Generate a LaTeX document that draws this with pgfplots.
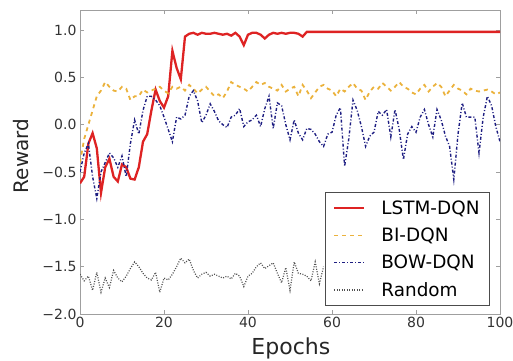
\documentclass[border=0pt]{standalone}
\usepackage{fontspec}
\setmainfont{DejaVu Sans}
\usepackage{pgfplots}
\usepackage{pgfplotstable}
\pgfplotsset{compat=1.18}
\definecolor{lstm}{RGB}{222,35,35}
\definecolor{bidqn}{RGB}{235,178,60}
\definecolor{bow}{RGB}{30,30,130}
\definecolor{rnd}{RGB}{80,80,80}
\pgfplotstableread{
epoch lstm bi bow rand
0 -0.62 -0.40 -0.50 -1.58
1 -0.55 -0.15 -0.30 -1.65
2 -0.20 0.00 -0.20 -1.60
3 -0.09 0.15 -0.55 -1.75
4 -0.25 0.30 -0.78 -1.56
5 -0.72 0.36 -0.50 -1.77
6 -0.45 0.45 -0.40 -1.62
7 -0.36 0.40 -0.30 -1.72
8 -0.55 0.36 -0.35 -1.54
9 -0.60 0.35 -0.45 -1.62
10 -0.42 0.40 -0.33 -1.66
11 -0.45 0.38 -0.55 -1.60
12 -0.57 0.26 -0.20 -1.52
13 -0.58 0.30 0.05 -1.45
14 -0.45 0.30 -0.10 -1.50
15 -0.18 0.37 0.15 -1.57
16 -0.10 0.34 0.30 -1.62
17 0.15 0.36 0.30 -1.64
18 0.37 0.38 0.26 -1.56
19 0.25 0.40 0.20 -1.77
20 0.18 0.36 0.08 -1.62
21 0.30 0.33 -0.05 -1.64
22 0.78 0.40 -0.18 -1.58
23 0.60 0.38 0.08 -1.50
24 0.48 0.40 0.06 -1.41
25 0.93 0.36 0.10 -1.46
26 0.96 0.42 0.30 -1.42
27 0.97 0.38 0.36 -1.54
28 0.95 0.33 0.25 -1.62
29 0.97 0.37 0.02 -1.58
30 0.96 0.40 0.10 -1.56
31 0.96 0.35 0.22 -1.60
32 0.97 0.30 0.14 -1.58
33 0.96 0.32 0.04 -1.60
34 0.95 0.28 0.00 -1.62
35 0.96 0.35 -0.03 -1.60
36 0.94 0.45 0.08 -1.63
37 0.97 0.42 0.10 -1.57
38 0.93 0.40 0.17 -1.60
39 0.84 0.38 -0.02 -1.71
40 0.95 0.35 0.03 -1.60
41 0.97 0.40 0.05 -1.57
42 0.97 0.45 0.10 -1.50
43 0.95 0.42 -0.02 -1.46
44 0.91 0.44 0.17 -1.52
45 0.95 0.40 0.30 -1.49
46 0.97 0.38 -0.04 -1.46
47 0.96 0.36 0.23 -1.57
48 0.97 0.42 0.20 -1.67
49 0.96 0.35 0.00 -1.51
50 0.97 0.38 -0.16 -1.75
51 0.97 0.40 0.05 -1.45
52 0.96 0.30 -0.09 -1.57
53 0.93 0.42 -0.16 -1.58
54 0.98 0.36 -0.04 -1.60
55 0.98 0.28 -0.05 -1.65
56 0.98 0.34 -0.10 -1.45
57 0.98 0.40 -0.18 -1.68
58 0.98 0.42 -0.23 -1.50
59 0.98 0.38 -0.10 nan
60 0.98 0.36 -0.08 nan
61 0.98 0.30 0.10 nan
62 0.98 0.38 0.18 nan
63 0.98 0.35 -0.44 nan
64 0.98 0.40 -0.15 nan
65 0.98 0.44 0.26 nan
66 0.98 0.38 0.15 nan
67 0.98 0.36 -0.02 nan
68 0.98 0.26 -0.23 nan
69 0.98 0.35 -0.12 nan
70 0.98 0.40 -0.08 nan
71 0.98 0.38 0.14 nan
72 0.98 0.44 0.10 nan
73 0.98 0.40 0.16 nan
74 0.98 0.36 -0.13 nan
75 0.98 0.40 0.16 nan
76 0.98 0.45 -0.05 nan
77 0.98 0.40 -0.37 nan
78 0.98 0.38 -0.10 nan
79 0.98 0.34 -0.02 nan
80 0.98 0.32 -0.08 nan
81 0.98 0.38 0.08 nan
82 0.98 0.42 0.16 nan
83 0.98 0.35 0.00 nan
84 0.98 0.40 -0.13 nan
85 0.98 0.44 0.16 nan
86 0.98 0.40 0.05 nan
87 0.98 0.30 -0.12 nan
88 0.98 0.36 -0.23 nan
89 0.98 0.42 -0.58 nan
90 0.98 0.38 -0.10 nan
91 0.98 0.36 0.23 nan
92 0.98 0.32 0.08 nan
93 0.98 0.38 0.08 nan
94 0.98 0.36 0.08 nan
95 0.98 0.35 -0.30 nan
96 0.98 0.36 0.08 nan
97 0.98 0.37 0.30 nan
98 0.98 0.35 0.20 nan
99 0.98 0.32 -0.02 nan
100 0.98 0.34 -0.18 nan
}\datatable
\begin{document}
\begin{tikzpicture}
\path[use as bounding box] (0,0) rectangle (513pt,360pt);
\begin{axis}[
  at={(80pt,46pt)}, anchor=south west,
  width=420pt, height=304pt, scale only axis,
  xmin=0, xmax=100, ymin=-2, ymax=1.211,
  xtick={0,20,40,60,80,100}, xticklabels={0,20,40,60,80,100},
  ytick={-2,-1.5,-1,-0.5,0,0.5,1},
  yticklabels={−2.0,−1.5,−1.0,−0.5,0.0,0.5,1.0},
  tick align=inside, major tick length=4pt,
  tick label style={font=\fontsize{14}{14}\selectfont, text=black!80},
  axis line style={gray!75, line width=1pt},
  every tick/.style={gray!75, line width=0.8pt},
  xlabel={Epochs}, ylabel={Reward},
  every axis x label/.style={at={(axis description cs:0.502,-0.1316)}, anchor=base, font=\fontsize{22}{22}\selectfont, text=black!85},
  every axis y label/.style={at={(axis description cs:-0.140,0.52)}, rotate=90, anchor=center, font=\fontsize{20}{20}\selectfont, text=black!85},
  unbounded coords=discard,
  legend style={at={(0.976,0.026)}, anchor=south east, font=\fontsize{18.4}{18.4}\selectfont, draw=black!70, fill=white, line width=0.8pt, inner xsep=8pt, inner ysep=6pt, row sep=8pt, /tikz/every odd column/.append style={column sep=14pt}},
  legend cell align=left,
  legend image code/.code={\draw[#1] (0pt,0pt) -- (30pt,0pt);},
]
\addplot[lstm, line width=2.3pt] table[x=epoch, y=lstm] {\datatable};
\addlegendentry{LSTM-DQN}
\addplot[bidqn, line width=1.8pt, dash pattern=on 4pt off 4pt] table[x=epoch, y=bi] {\datatable};
\addlegendentry{BI-DQN}
\addplot[bow, line width=1.4pt, dash pattern=on 3pt off 2pt on 1pt off 2pt] table[x=epoch, y=bow] {\datatable};
\addlegendentry{BOW-DQN}
\addplot[rnd, line width=1.2pt, dash pattern=on 1pt off 1.5pt] table[x=epoch, y=rand] {\datatable};
\addlegendentry{Random}
\end{axis}
\end{tikzpicture}
\end{document}
